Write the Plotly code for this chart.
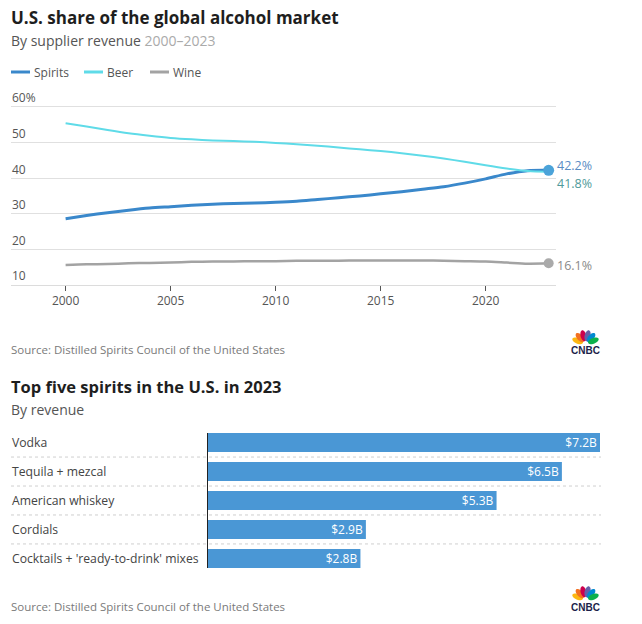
import plotly.graph_objects as go
import numpy as np

W, H = 642, 624


def px(x):
    return x / W


def py(y):
    return 1 - y / H


# ---------------- data ----------------
years = list(range(2000, 2024))
spirits = [28.6, 29.5, 30.3, 31.0, 31.6, 32.0, 32.4, 32.7, 32.9, 33.0, 33.2, 33.5,
           34.0, 34.5, 35.0, 35.6, 36.2, 36.9, 37.6, 38.6, 39.8, 41.2, 42.1, 42.2]
beer = [55.4, 54.5, 53.5, 52.6, 51.9, 51.3, 50.9, 50.6, 50.4, 50.2, 49.9, 49.5,
        49.1, 48.6, 48.1, 47.6, 47.0, 46.3, 45.5, 44.6, 43.6, 42.7, 42.0, 41.8]
wine = [15.6, 15.8, 15.9, 16.1, 16.2, 16.3, 16.5, 16.6, 16.6, 16.7, 16.7, 16.8,
        16.8, 16.8, 16.9, 16.9, 16.9, 16.9, 16.8, 16.7, 16.6, 16.3, 16.0, 16.1]
series_names = ["Spirits", "Beer", "Wine"]
series_values = [spirits, beer, wine]
series_colors = ["#3a88cb", "#5fdbe8", "#a3a3a3"]
series_widths = [3, 2, 2.5]
end_label_colors = ["#5a8cc4", "#4f9a9a", "#8a8a8a"]
y_tickvals = [10, 20, 30, 40, 50, 60]
y_ticktext = ["10", "20", "30", "40", "50", "60%"]
x_tickvals = [2000, 2005, 2010, 2015, 2020]

categories = ["Vodka", "Tequila + mezcal", "American whiskey", "Cordials",
              "Cocktails + 'ready-to-drink' mixes"]
revenue = [7.2, 6.5, 5.3, 2.9, 2.8]
revenue_labels = ["$7.2B", "$6.5B", "$5.3B", "$2.9B", "$2.8B"]

FONT = "Open Sans"
fig = go.Figure()

# ---------------- line chart ----------------
for name, vals, col, lw in zip(series_names, series_values, series_colors, series_widths):
    fig.add_trace(go.Scatter(
        x=years, y=vals, name=name, mode="lines",
        line=dict(color=col, width=lw, shape="spline", smoothing=0.8),
        xaxis="x", yaxis="y", showlegend=False, hoverinfo="skip"))

# end markers (spirits and wine)
fig.add_trace(go.Scatter(
    x=[years[-1]], y=[spirits[-1]], mode="markers",
    marker=dict(color="#4ba3d9", size=11), xaxis="x", yaxis="y",
    showlegend=False, hoverinfo="skip"))
fig.add_trace(go.Scatter(
    x=[years[-1]], y=[wine[-1]], mode="markers",
    marker=dict(color="#aaaaaa", size=10), xaxis="x", yaxis="y",
    showlegend=False, hoverinfo="skip"))

annotations = []
shapes = []

# y tick labels (sit above the gridlines, left aligned)
for v, t in zip(y_tickvals, y_ticktext):
    annotations.append(dict(
        x=px(10), y=v, xref="paper", yref="y", text=t, showarrow=False,
        xanchor="left", yanchor="middle", yshift=9,
        font=dict(family=FONT, size=12, color="#555555")))

# end labels
end_shifts = [5, -12, -2]
for vals, col, ys in zip(series_values, end_label_colors, end_shifts):
    annotations.append(dict(
        x=years[-1], y=vals[-1], xref="x", yref="y", text=f"{vals[-1]:.1f}%",
        showarrow=False, xanchor="left", yanchor="middle", xshift=6, yshift=ys,
        font=dict(family=FONT, size=12.5, color=col)))

# ---------------- bar chart ----------------
fig.add_trace(go.Bar(
    x=revenue, y=categories, orientation="h", xaxis="x2", yaxis="y2",
    marker=dict(color="#4a97d5", line=dict(width=0)),
    text=revenue_labels, textposition="inside", insidetextanchor="end",
    textfont=dict(family=FONT, size=12, color="white"),
    constraintext="none", showlegend=False, hoverinfo="skip"))

for i, cat in enumerate(categories):
    annotations.append(dict(
        x=px(10), y=cat, xref="paper", yref="y2", text=cat, showarrow=False,
        xanchor="left", yanchor="middle",
        font=dict(family=FONT, size=12.2, color="#444444")))
for i in range(len(categories) - 1):
    shapes.append(dict(
        type="line", xref="paper", yref="y2", x0=px(11), x1=px(601),
        y0=i + 0.5, y1=i + 0.5, line=dict(color="#cfcfcf", width=1, dash="dot"),
        layer="below"))


# ---------------- texts ----------------
def text(x, y, s, size, color, bold=False):
    annotations.append(dict(
        x=px(x), y=py(y), xref="paper", yref="paper", text=f"<b>{s}</b>" if bold else s,
        showarrow=False, xanchor="left", yanchor="middle",
        font=dict(family=FONT, size=size, color=color)))


text(9, 17, "U.S. share of the global alcohol market", 17, "#1e1e1e", bold=True)
text(9, 40, "By supplier revenue <span style='color:#aaaaaa'>2000–2023</span>", 14, "#555555")
text(9, 349, "Source: Distilled Spirits Council of the United States", 11.5, "#7a7a7a")
text(9, 386, "Top five spirits in the U.S. in 2023", 16.5, "#1e1e1e", bold=True)
text(9, 409, "By revenue", 14, "#555555")
text(9, 606, "Source: Distilled Spirits Council of the United States", 11.5, "#7a7a7a")

# legend (manual)
leg_x = [11, 84, 150]
for name, col, x0 in zip(series_names, series_colors, leg_x):
    shapes.append(dict(type="line", xref="paper", yref="paper",
                       x0=px(x0), x1=px(x0 + 19), y0=py(72), y1=py(72),
                       line=dict(color=col, width=3)))
    text(x0 + 21, 72, name, 12, "#555555")


# CNBC logos
def logo(cx, base, ty):
    cols = ["#fcb711", "#f37021", "#cc004c", "#6460aa", "#0089d0", "#0db14b"]
    angs = [-68, -41, -14, 14, 41, 68]
    t = np.linspace(0, 2 * np.pi, 25)
    for c, a in zip(cols, angs):
        r = np.radians(a)
        d = 8.5
        ex, ey = cx + d * np.sin(r), base - d * np.cos(r)
        a_, b_ = 5.6, 2.9
        xs = a_ * np.cos(t)
        ys = b_ * np.sin(t)
        ux, uy = np.sin(r), -np.cos(r)
        vx, vy = np.cos(r), np.sin(r)
        X = ex + xs * ux + ys * vx
        Y = ey + xs * uy + ys * vy
        path = "M " + " L ".join(f"{px(xx):.5f},{py(yy):.5f}" for xx, yy in zip(X, Y)) + " Z"
        shapes.append(dict(type="path", xref="paper", yref="paper", path=path,
                           fillcolor=c, line=dict(width=0)))
    annotations.append(dict(
        x=px(cx), y=py(ty), xref="paper", yref="paper", text="<b>CNBC</b>",
        showarrow=False, xanchor="center", yanchor="middle",
        font=dict(family="Liberation Sans", size=10, color="#1c1f4a")))


logo(585.5, 344, 350.5)
logo(585.5, 600, 607)

# ---------------- layout ----------------
fig.update_layout(
    width=W, height=H, margin=dict(l=0, r=0, t=0, b=0),
    paper_bgcolor="white", plot_bgcolor="white",
    font=dict(family=FONT, color="#555555"),
    bargap=0.345,
    xaxis=dict(domain=[px(11), px(556)], range=[1997.4, 2023.35],
               tickvals=x_tickvals, ticks="outside", ticklen=5, tickcolor="#555555",
               showgrid=False, showline=True, linecolor="#dcdcdc", linewidth=1,
               zeroline=False, tickfont=dict(family=FONT, size=12, color="#555555"),
               fixedrange=True),
    yaxis=dict(domain=[py(285), py(90)], range=[10, 64.75],
               tickvals=y_tickvals, showticklabels=False, ticks="",
               showgrid=True, gridcolor="#e0e0e0", gridwidth=1,
               zeroline=False, showline=False, fixedrange=True),
    xaxis2=dict(domain=[px(208), px(600)], range=[0, 7.2], anchor="y2",
                visible=False, fixedrange=True),
    yaxis2=dict(domain=[py(568), py(433)], anchor="x2", type="category",
                categoryorder="array", categoryarray=categories,
                range=[len(categories) - 1 + 0.33, -0.33],
                showticklabels=False, ticks="", showgrid=False, zeroline=False,
                showline=True, linecolor="#222222", linewidth=1, fixedrange=True),
    annotations=annotations, shapes=shapes,
)

fig.write_html("out.html", config={"displayModeBar": False},
               post_script="document.body.style.margin='0px';")
